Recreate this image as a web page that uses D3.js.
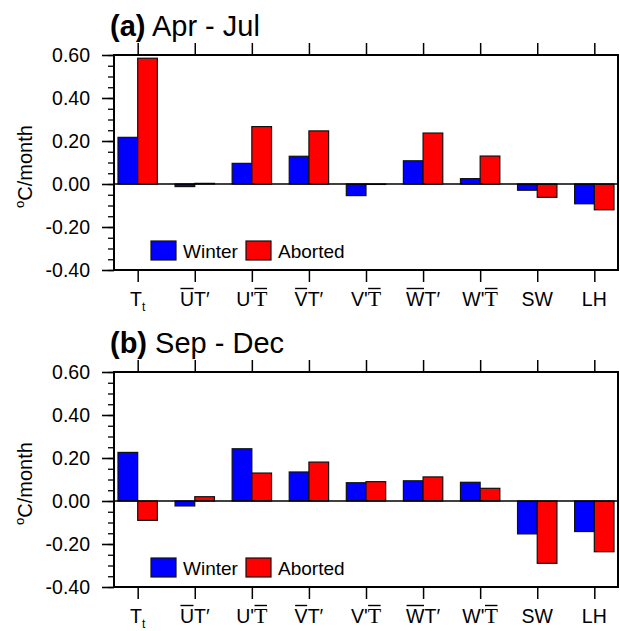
<!DOCTYPE html>
<html>
<head>
<meta charset="utf-8">
<script src="https://cdn.jsdelivr.net/npm/d3@7"></script>
<style>
  body { margin: 0; background: #fff; }
  svg { display: block; font-family: "Liberation Sans", Arial, sans-serif; }
</style>
</head>
<body>
<div id="chart"></div>
<script>
// categories and their rich tick labels (bar = overline, sub = subscript, serif = Times)
const categories = ["Tt", "UbarT'", "U'Tbar", "VbarT'", "V'Tbar", "WbarT'", "W'Tbar", "SW", "LH"];
const tickLabels = [
    [{t: "T"}, {t: "t", sub: true}],
    [{t: "U", bar: true}, {t: "T\u2032"}],
    [{t: "U'"}, {t: "T", bar: true, serif: true}],
    [{t: "V", bar: true}, {t: "T\u2032"}],
    [{t: "V'"}, {t: "T", bar: true, serif: true}],
    [{t: "W", bar: true}, {t: "T\u2032"}],
    [{t: "W'"}, {t: "T", bar: true, serif: true}],
    [{t: "SW"}],
    [{t: "LH"}]
];

const seriesNames = ["Winter", "Aborted"];
const seriesColors = ["#0000ff", "#ff0000"];

// (a) Apr - Jul
const winterAprJul  = [0.217, -0.012, 0.096, 0.129, -0.054, 0.108, 0.025, -0.029, -0.092];
const abortedAprJul = [0.585, 0.003, 0.267, 0.247, -0.002, 0.237, 0.130, -0.062, -0.120];
// (b) Sep - Dec
const winterSepDec  = [0.226, -0.023, 0.243, 0.135, 0.085, 0.094, 0.087, -0.153, -0.142];
const abortedSepDec = [-0.090, 0.020, 0.130, 0.181, 0.090, 0.112, 0.059, -0.290, -0.236];

const yTicks = [-0.4, -0.2, 0, 0.2, 0.4, 0.6];
const yMinorTicks = d3.range(-0.4, 0.6001, 0.05);

const width = 620, height = 631;
const left = 114, right = 618;

const svg = d3.select('#chart')
    .append('svg')
    .attr('width', width)
    .attr('height', height);

const x = d3.scalePoint()
    .domain(categories)
    .range([left, right])
    .padding(0.415);

const barW = x.step() * 0.345;

function drawPanel(top, bottom, letter, period, winter, aborted) {
    const g = svg.append('g');
    const y = d3.scaleLinear().domain([-0.4, 0.6]).range([bottom, top]);

    // title
    const title = g.append('text')
        .attr('x', 110)
        .attr('y', top - 19)
        .attr('font-size', 29)
        .attr('fill', '#000');
    title.append('tspan').attr('font-weight', 'bold').text('(' + letter + ')');
    title.append('tspan').text(' ' + period);

    // y axis label
    const yl = g.append('text')
        .attr('transform', `translate(32,${(top + bottom) / 2 + 4}) rotate(-90)`)
        .attr('text-anchor', 'middle')
        .attr('font-size', 20);
    yl.append('tspan').attr('font-size', 13).attr('dy', -8).text('o');
    yl.append('tspan').attr('dy', 8).text('C/month');

    // bars
    const series = [winter, aborted];
    series.forEach((vals, s) => {
        g.selectAll('.bar' + s)
            .data(vals)
            .enter()
            .append('rect')
            .attr('x', (d, i) => s === 0 ? x(categories[i]) - barW : x(categories[i]))
            .attr('y', d => y(Math.max(0, d)))
            .attr('width', barW)
            .attr('height', d => Math.abs(y(d) - y(0)))
            .attr('fill', seriesColors[s])
            .attr('stroke', '#111')
            .attr('stroke-width', 1.2);
    });

    // zero line
    g.append('line')
        .attr('x1', left).attr('x2', right)
        .attr('y1', y(0)).attr('y2', y(0))
        .attr('stroke', '#000').attr('stroke-width', 1.6);

    // left axis
    const yAxis = d3.axisLeft(y)
        .tickValues(yTicks)
        .tickSize(12)
        .tickPadding(12)
        .tickFormat(d => d.toFixed(2));
    const ya = g.append('g')
        .attr('transform', `translate(${left},0)`)
        .call(yAxis);
    ya.select('.domain').remove();
    ya.selectAll('line').attr('stroke-width', 1.6);
    ya.selectAll('text')
        .attr('font-size', 19.5)
        .attr('font-family', '"Liberation Sans", Arial, sans-serif')
        .attr('fill', '#000');

    const yMinor = d3.axisLeft(y).tickValues(yMinorTicks).tickSize(6).tickFormat('');
    const ym = g.append('g')
        .attr('transform', `translate(${left},0)`)
        .call(yMinor);
    ym.select('.domain').remove();
    ym.selectAll('line').attr('stroke-width', 1.3);

    // top and bottom ticks
    const xTop = d3.axisTop(x).tickSize(12).tickFormat('');
    const xt = g.append('g').attr('transform', `translate(0,${top})`).call(xTop);
    xt.select('.domain').remove();
    xt.selectAll('line').attr('stroke-width', 1.5);

    const xBot = d3.axisBottom(x).tickSize(12).tickFormat('');
    const xb = g.append('g').attr('transform', `translate(0,${bottom})`).call(xBot);
    xb.select('.domain').remove();
    xb.selectAll('line').attr('stroke-width', 1.5);

    // x tick labels with overbars and subscripts
    const base = bottom + 36;
    categories.forEach((c, i) => {
        const parts = tickLabels[i];
        const t = g.append('text')
            .attr('x', x(c))
            .attr('y', base)
            .attr('text-anchor', 'middle')
            .attr('font-size', 19.5)
            .attr('fill', '#000');
        let idx = 0;
        const bars = [];
        parts.forEach(p => {
            const sp = t.append('tspan').text(p.t);
            if (p.serif) sp.attr('font-family', '"Liberation Serif", "Times New Roman", serif').attr('font-size', 22);
            if (p.sub) sp.attr('font-size', 12).attr('dy', 5);
            if (p.bar) bars.push([idx, p.t.length]);
            idx += p.t.length;
        });
        const node = t.node();
        bars.forEach(([s, n]) => {
            const x0 = node.getStartPositionOfChar(s).x;
            const x1 = node.getEndPositionOfChar(s + n - 1).x;
            g.append('line')
                .attr('x1', x0 + 0.5).attr('x2', x1 - 0.5)
                .attr('y1', base - 17.5).attr('y2', base - 17.5)
                .attr('stroke', '#000').attr('stroke-width', 1.4);
        });
    });

    // frame
    g.append('rect')
        .attr('x', left).attr('y', top)
        .attr('width', right - left).attr('height', bottom - top)
        .attr('fill', 'none')
        .attr('stroke', '#000')
        .attr('stroke-width', 2);

    // legend
    const lx = [151, 246];
    seriesNames.forEach((name, s) => {
        g.append('rect')
            .attr('x', lx[s]).attr('y', bottom - 29)
            .attr('width', 25).attr('height', 19)
            .attr('fill', seriesColors[s])
            .attr('stroke', '#111').attr('stroke-width', 1.2);
        g.append('text')
            .attr('x', lx[s] + 32).attr('y', bottom - 12)
            .attr('font-size', 19)
            .attr('fill', '#000')
            .text(name);
    });
}

drawPanel(55, 270, 'a', 'Apr - Jul', winterAprJul, abortedAprJul);
drawPanel(372, 587, 'b', 'Sep - Dec', winterSepDec, abortedSepDec);
</script>
</body>
</html>
